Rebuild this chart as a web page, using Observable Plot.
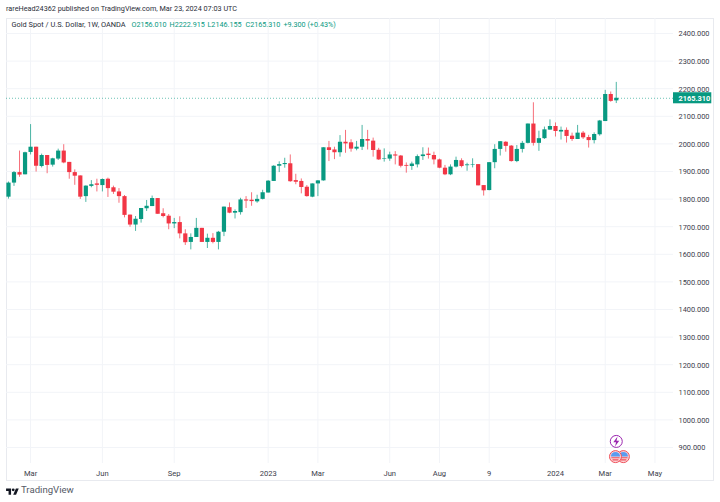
<!DOCTYPE html>
<html>
<head>
<meta charset="utf-8">
<script src="https://cdn.jsdelivr.net/npm/d3@7"></script>
<script src="https://cdn.jsdelivr.net/npm/@observablehq/plot@0.6"></script>
<style>
html,body{margin:0;padding:0;background:#fff;width:720px;height:502px;overflow:hidden;font-family:Roboto,sans-serif;color:#2a2e39}
#head{height:18px;line-height:18px;font-size:7.25px;padding-left:6px;box-sizing:border-box;white-space:nowrap}
#chart svg{display:block}
#foot{height:22px;position:relative;font-size:9.6px;color:#555a66}
#foot svg{position:absolute;left:6px;top:7px}
#foot span{position:absolute;left:21px;top:4px}
</style>
</head>
<body>
<div id="head">rareHead24362 published on TradingView.com, Mar 23, 2024 07:03 UTC</div>
<div id="chart"></div>
<div id="foot"><svg width="13" height="10" viewBox="0 0 36 28"><path fill="#131722" d="M14 22H7V11H0V4h14v18zM28 22h-8l7.5-18h8L28 22z"/><circle fill="#131722" cx="20" cy="8" r="4"/></svg><span>TradingView</span></div>
<script>
const firstWeek = "2022-02-07";
const open = [1807,1858,1896,1888,1969,1988,1918,1958,1923,1945,1974,1933,1896,1884,1809,1846,1855,1849,1872,1841,1826,1809,1742,1706,1726,1765,1773,1802,1747,1738,1710,1715,1674,1643,1661,1694,1643,1658,1643,1680,1769,1749,1751,1797,1796,1790,1799,1822,1864,1919,1925,1928,1867,1864,1843,1807,1855,1866,1986,1978,1968,2006,2004,1981,1988,2016,2010,1977,1945,1945,1960,1956,1922,1918,1924,1954,1963,1958,1942,1912,1888,1916,1939,1921,1923,1925,1849,1831,1932,1980,2006,1992,1936,1980,2002,2072,2002,2019,2050,2063,2043,2049,2028,2016,2039,2023,2012,2033,2081,2179,2156.01];
const high = [1862,1900,1974,1970,2070,1988,1963,1958,1948,1981,1997,1933,1906,1884,1848,1867,1872,1873,1876,1847,1838,1813,1742,1737,1766,1795,1811,1802,1765,1744,1730,1736,1689,1674,1730,1694,1673,1675,1683,1771,1786,1761,1803,1809,1823,1814,1832,1867,1921,1935,1948,1960,1890,1873,1849,1855,1867,1986,2009,1988,2030,2049,2015,2009,2067,2049,2021,1984,1982,1970,1972,1958,1931,1934,1960,1986,1985,1970,1945,1922,1924,1952,1946,1930,1946,1925,1849,1932,1997,2008,2008,1994,1994,2009,2072,2149,2046,2061,2087,2076,2061,2058,2039,2067,2045,2031,2040,2085,2194,2188,2222.915];
const low = [1800,1846,1879,1888,1960,1898,1913,1892,1916,1940,1928,1872,1850,1799,1788,1841,1826,1826,1806,1817,1785,1732,1698,1683,1713,1755,1773,1745,1732,1689,1693,1656,1632,1616,1661,1643,1621,1638,1616,1664,1747,1728,1742,1766,1774,1785,1797,1822,1864,1896,1912,1861,1852,1819,1807,1805,1809,1865,1936,1943,1952,1966,1970,1975,1976,1978,1952,1940,1934,1937,1924,1913,1894,1904,1913,1940,1945,1924,1910,1885,1885,1913,1913,1901,1913,1848,1811,1830,1910,1956,1970,1934,1932,1967,2000,1992,1973,2016,2050,2025,2014,2003,2009,2016,2016,1985,2000,2028,2081,2151,2146.155];
const close = [1858,1896,1887,1968,1988,1919,1958,1922,1946,1974,1931,1896,1883,1807,1847,1852,1850,1871,1838,1825,1809,1741,1706,1727,1766,1774,1802,1745,1737,1710,1715,1674,1642,1661,1694,1643,1658,1643,1680,1771,1749,1755,1797,1793,1791,1799,1823,1865,1919,1925,1929,1863,1861,1842,1809,1855,1866,1986,1976,1968,2006,2000,1981,1988,2016,2010,1976,1942,1947,1960,1956,1919,1919,1927,1954,1960,1958,1942,1912,1888,1916,1940,1918,1924,1925,1848,1830,1932,1980,2008,1991,1936,1980,2002,2072,2002,2019,2051,2063,2045,2049,2027,2016,2039,2022,2012,2034,2083,2179,2154,2165.31];
const priceTicks = [2400,2300,2200,2100,2000,1900,1800,1700,1600,1500,1400,1300,1200,1100,1000,900];
const timeTicks = ["2022-03-07","2022-06-06","2022-09-05","2023-01-02","2023-03-06","2023-06-05","2023-08-07","2023-10-09","2024-01-01","2024-03-04","2024-05-06"];
const timeLabels = ["Mar","Jun","Sep","2023","Mar","Jun","Aug","9","2024","Mar","May"];
const paneStart = "2022-02-04T12:00Z", paneEnd = "2024-05-29T12:00Z", chipEnd = "2024-07-17";
const topPrice = 2454, bottomPrice = 842, lastClose = 2165.31;
const legendParts = ["Gold Spot / U.S. Dollar, 1W, OANDA","O2156.010","H2222.915","L2146.155","C2165.310","+9.300 (+0.43%)"];
const legendOffsets = [5,125,163,201,239,277];
const legendColors = ["#2a2e39","#089981","#089981","#089981","#089981","#089981"];
const eventDates = ["2024-03-17","2024-03-27"];

const d = s => new Date(s);
const GREEN = "#089981", RED = "#f23645";
const weeks = open.map((_, i) => d3.utcDay.offset(d(firstWeek), i * 7));
const idx = d3.range(open.length);
const col = i => close[i] >= open[i] ? GREEN : RED;
const ticksD = timeTicks.map(d);

const bolt = {draw(c, size){const s = Math.sqrt(size)*0.56;
  c.moveTo(0.25*s,-1*s);c.lineTo(-0.6*s,0.15*s);c.lineTo(-0.05*s,0.15*s);c.lineTo(-0.25*s,1*s);c.lineTo(0.6*s,-0.15*s);c.lineTo(0.05*s,-0.15*s);c.closePath();}};
const canton = {draw(c, size){const r = Math.sqrt(size/Math.PI);
  c.moveTo(-r,0);c.arc(0,0,r,Math.PI,2*Math.PI);c.lineTo(-r,0);c.closePath();}};
const stripes = {draw(c, size){const r = Math.sqrt(size/Math.PI);
  c.rect(-r*0.9,r*0.15,r*1.8,r*0.22);c.rect(-r*0.65,r*0.6,r*1.3,r*0.22);}};

const plot = Plot.plot({
  width: 720, height: 462,
  marginTop: 0, marginBottom: 17, marginLeft: 6, marginRight: 47,
  style: {fontFamily: 'Roboto,sans-serif', background: "#fff", overflow: "visible"},
  x: {type: "utc", domain: [d(paneStart), d(paneEnd)], range: [6, 673]},
  y: {type: "linear", domain: [900, 2400], range: [429, 15]},
  color: {type: "identity"},
  marks: [
    Plot.frame({stroke: "#e8eaef", strokeWidth: 1, insetRight: -40, insetBottom: -17}),
    Plot.ruleY(priceTicks, {x1: d(paneStart), x2: d(paneEnd), stroke: "#f2f4f8", strokeWidth: 1}),
    Plot.ruleX(ticksD, {y1: bottomPrice, y2: topPrice, stroke: "#f2f4f8", strokeWidth: 1}),
    Plot.ruleY([lastClose], {x1: d(paneStart), x2: d(paneEnd), stroke: GREEN, strokeWidth: 0.6, strokeDasharray: "1,2"}),
    Plot.ruleX(idx, {x: i => weeks[i], y1: i => low[i], y2: i => high[i], stroke: col, strokeWidth: 0.9, strokeOpacity: 0.8}),
    Plot.ruleX(idx, {x: i => weeks[i], y1: i => open[i], y2: i => close[i], stroke: col, strokeWidth: 4.2}),
    Plot.axisY({anchor: "right", ticks: priceTicks, tickFormat: v => v.toFixed(3), tickSize: 0, tickPadding: 5, label: null, fontSize: 7.4, fill: "#3c404c", textStroke: "none", dy: 0.5}),
    Plot.axisX({anchor: "bottom", ticks: ticksD, tickFormat: t => timeLabels[ticksD.findIndex(k => +k === +t)], tickSize: 0, tickPadding: 7, label: null, fontSize: 7.6, fill: "#3c404c"}),
    Plot.rect([0], {x1: d(paneEnd), x2: d(chipEnd), y1: lastClose - 20, y2: lastClose + 20, fill: GREEN}),
    Plot.text([lastClose.toFixed(3)], {x: d(paneEnd), y: lastClose, dx: 5, dy: 0.5, textAnchor: "start", fill: "#fff", fontSize: 7.4, fontWeight: 700}),
    ...legendParts.map((t, i) => Plot.text([t], {frameAnchor: "top-left", dx: legendOffsets[i], dy: 3, textAnchor: "start", fill: legendColors[i], fontSize: i ? 7.2 : 7.4})),
    Plot.dot([0], {x: d(weeks[110]), y: 922, r: 6, fill: "#fff", stroke: "#9c27b0", strokeWidth: 1}),
    Plot.dot([0], {x: d(weeks[110]), y: 922, r: 5, symbol: bolt, fill: "#9c27b0"}),
    ...eventDates.slice().reverse().flatMap(e => [
      Plot.dot([0], {x: d(e), y: 867, r: 6, fill: "#fbd5d8", stroke: "#f0505a", strokeWidth: 1}),
      Plot.dot([0], {x: d(e), y: 867, r: 4.6, symbol: canton, fill: "#5b9cf0"}),
      Plot.dot([0], {x: d(e), y: 867, r: 4.6, symbol: stripes, fill: "#f0505a"})
    ])
  ]
});
document.getElementById("chart").appendChild(plot);
</script>
</body>
</html>
